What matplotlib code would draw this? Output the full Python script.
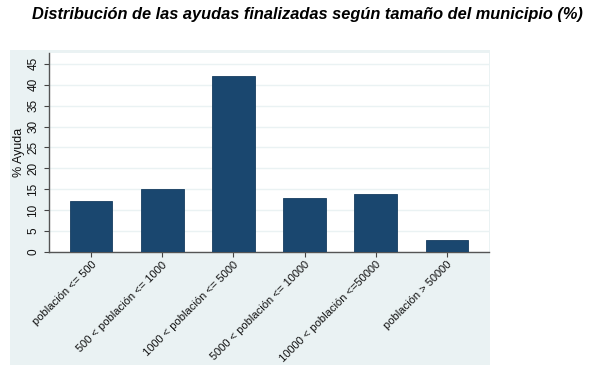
import matplotlib
matplotlib.use("Agg")
import matplotlib.pyplot as plt

categories = ["población <= 500", "500 < población <= 1000", "1000 < población <= 5000",
              "5000 < población <= 10000", "10000 < población <=50000", "población > 50000"]
values = [12.2, 15.1, 42.1, 13.0, 13.9, 2.9]
yticks = [0, 5, 10, 15, 20, 25, 30, 35, 40, 45]

plt.rcParams['font.family'] = ['Liberation Sans', 'DejaVu Sans']

W, H = 603, 367
fig = plt.figure(figsize=(W/100, H/100), dpi=100)
fig.patch.set_facecolor('white')

# outer Stata-like background
bg = fig.add_axes([10/W, 1-365/H, (490-10)/W, (365-50)/H], zorder=0)
bg.set_facecolor('#EAF2F3')
bg.set_xticks([]); bg.set_yticks([])
for s in bg.spines.values():
    s.set_visible(False)

ax = fig.add_axes([49/W, 1-252/H, (489-49)/W, (252-53)/H], zorder=1)
ax.set_facecolor('white')
x = list(range(len(categories)))
ax.bar(x, values, width=0.6, color='#1A476F', edgecolor='#163d60', linewidth=0.6, zorder=3)
ax.set_xlim(-0.59, 5.59)
ax.set_ylim(0, 47.6)
ax.set_yticks(yticks)
ax.set_yticklabels([str(t) for t in yticks], rotation=90, va='center', fontsize=8.5, color='#111111')
ax.yaxis.grid(True, color='#EAF2F3', linewidth=1.0, zorder=0)
ax.set_xticks(x)
ax.set_xticklabels(categories, rotation=45, ha='right', rotation_mode='anchor', fontsize=8, color='#111111')
ax.tick_params(axis='both', colors='#444444', length=3.5, width=0.8)
ax.tick_params(axis='both', labelcolor='#111111')
ax.tick_params(axis='x', pad=2)
ax.set_ylabel('% Ayuda', fontsize=9, color='#111111')
ax.yaxis.set_label_coords(-0.055, 0.5)
for s in ['top', 'right']:
    ax.spines[s].set_visible(False)
for s in ['left', 'bottom']:
    ax.spines[s].set_color('#555555')
    ax.spines[s].set_linewidth(1.0)

fig.text(307/W, 1-14/H, 'Distribución de las ayudas finalizadas según tamaño del municipio (%)',
         ha='center', va='center', fontsize=11.8, fontweight='bold', fontstyle='italic')

fig.savefig('out.png', dpi=100)
